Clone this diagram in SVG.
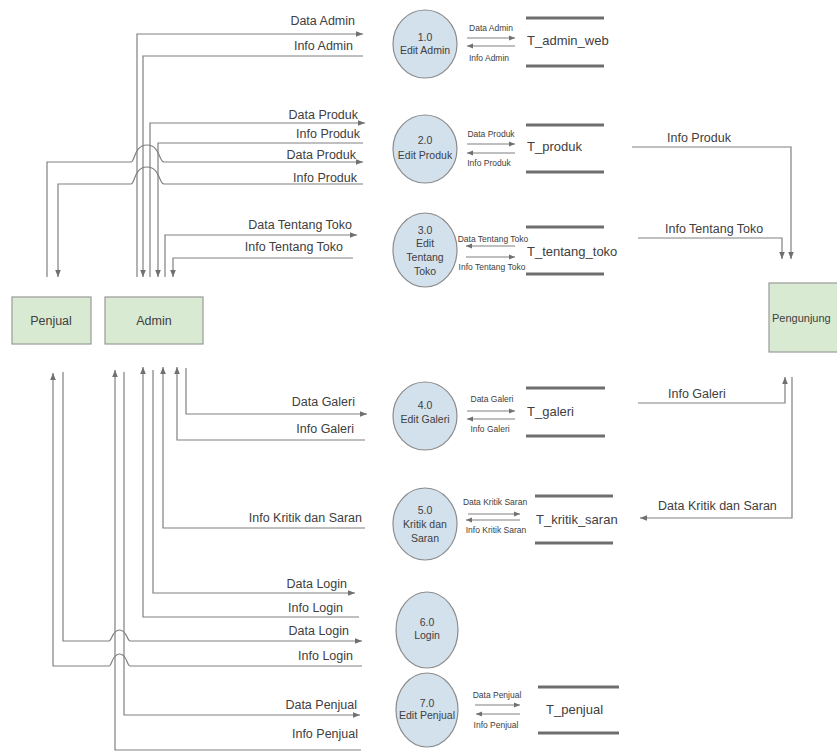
<svg xmlns="http://www.w3.org/2000/svg" width="837" height="751" viewBox="0 0 837 751">
<style>
.ln{fill:none;stroke:#808080;stroke-width:1.2}
.a{marker-end:url(#ah)}
.s{marker-end:url(#ahs)}
text{font-family:"Liberation Sans",Arial,sans-serif;fill:#404040}
.lbl{font-size:12.5px;text-anchor:end}
.rl{font-size:12.5px;text-anchor:start}
.sm{font-size:8.5px;text-anchor:middle}
.pe{fill:#d3e1ec;stroke:#8c8c8c;stroke-width:1.2}
.pt{font-size:10.5px;text-anchor:middle}
.st{stroke:#6e6e6e;stroke-width:3}
.stt{font-size:13px}
.ent{fill:#d9ead3;stroke:#999;stroke-width:1.2}
.et{font-size:12.5px;text-anchor:middle}
</style>
<defs>
<marker id="ah" viewBox="0 0 10 10" refX="10" refY="5" markerWidth="7" markerHeight="7" markerUnits="userSpaceOnUse" orient="auto"><path d="M0,1 L10,5 L0,9 z" fill="#707070"/></marker>
<marker id="ahs" viewBox="0 0 10 10" refX="10" refY="5" markerWidth="6" markerHeight="6" markerUnits="userSpaceOnUse" orient="auto"><path d="M0,1 L10,5 L0,9 z" fill="#707070"/></marker>
</defs>

<g id="connectors">
<path class="ln a" d="M137,277 V34 H363"/>
<path class="ln a" d="M363,56 H143 V277"/>
<path class="ln a" d="M150,277 V123 H365"/>
<path class="ln a" d="M363,143 H158 V277"/>
<path class="ln a" d="M47,277 V162 H131 C135,162 134,145 147,145 C160,145 159,162 164,162 H363"/>
<path class="ln a" d="M363,184 H164 C159,184 160,167 147,167 C134,167 135,184 131,184 H58 V277"/>
<path class="ln a" d="M165,277 V235 H357"/>
<path class="ln a" d="M353,258 H173 V277"/>

<path class="ln a" d="M632,147 H791 V259"/>
<path class="ln a" d="M638,238 H782 V259"/>
<path class="ln a" d="M638,403 H785 V377"/>
<path class="ln a" d="M792,377 V518 H640"/>

<path class="ln a" d="M186,368 V414 H367"/>
<path class="ln a" d="M365,440 H177 V367"/>
<path class="ln a" d="M365,528 H163 V367"/>
<path class="ln a" d="M153,370 V593 H355"/>
<path class="ln a" d="M359,617 H143 V367"/>
<path class="ln a" d="M63,372 V641 H109 C112,641 112,630 119.5,630 C127,630 127,641 130,641 H362"/>
<path class="ln a" d="M362,666 H130 C127,666 127,654 119.5,654 C112,654 112,666 109,666 H53 V373"/>
<path class="ln a" d="M124,372 V715 H360"/>
<path class="ln a" d="M361,750 H115 V370"/>

<path class="ln s" d="M467,38 H515"/>
<path class="ln s" d="M515,46 H467"/>
<path class="ln s" d="M467,144 H515"/>
<path class="ln s" d="M515,153 H467"/>
<path class="ln s" d="M515,246 H466"/>
<path class="ln s" d="M466,257 H515"/>
<path class="ln s" d="M467,411 H515"/>
<path class="ln s" d="M515,419 H467"/>
<path class="ln s" d="M468,514 H520"/>
<path class="ln s" d="M520,520 H466"/>
<path class="ln s" d="M475,705 H520"/>
<path class="ln s" d="M520,714 H476"/>

<text class="lbl" x="355" y="25">Data Admin</text>
<text class="lbl" x="353" y="50">Info Admin</text>
<text class="lbl" x="358" y="119">Data Produk</text>
<text class="lbl" x="360" y="138">Info Produk</text>
<text class="lbl" x="356" y="159">Data Produk</text>
<text class="lbl" x="357" y="182">Info Produk</text>
<text class="lbl" x="352" y="229">Data Tentang Toko</text>
<text class="lbl" x="343" y="251">Info Tentang Toko</text>
<text class="lbl" x="355" y="406">Data Galeri</text>
<text class="lbl" x="354" y="433">Info Galeri</text>
<text class="lbl" x="362" y="522">Info Kritik dan Saran</text>
<text class="lbl" x="347" y="588">Data Login</text>
<text class="lbl" x="343" y="612">Info Login</text>
<text class="lbl" x="349" y="635">Data Login</text>
<text class="lbl" x="353" y="660">Info Login</text>
<text class="lbl" x="357" y="709">Data Penjual</text>
<text class="lbl" x="358" y="738">Info Penjual</text>

<text class="rl" x="667" y="142">Info Produk</text>
<text class="rl" x="665" y="233">Info Tentang Toko</text>
<text class="rl" x="668" y="398">Info Galeri</text>
<text class="rl" x="658" y="510">Data Kritik dan Saran</text>

<text class="sm" x="491" y="31">Data Admin</text>
<text class="sm" x="489" y="61">Info Admin</text>
<text class="sm" x="491" y="137">Data Produk</text>
<text class="sm" x="489" y="166">Info Produk</text>
<text class="sm" x="493" y="242">Data Tentang Toko</text>
<text class="sm" x="492" y="270">Info Tentang Toko</text>
<text class="sm" x="492" y="402">Data Galeri</text>
<text class="sm" x="490" y="432">Info Galeri</text>
<text class="sm" x="495" y="505">Data Kritik Saran</text>
<text class="sm" x="496" y="533">Info Kritik Saran</text>
<text class="sm" x="497" y="698">Data Penjual</text>
<text class="sm" x="496" y="728">Info Penjual</text>
</g>

<g id="penjual"><rect class="ent" x="12" y="297" width="79" height="47"/><text class="et" x="51" y="325">Penjual</text></g>
<g id="admin"><rect class="ent" x="105" y="297" width="98" height="47"/><text class="et" x="154" y="325">Admin</text></g>
<g id="pengunjung"><rect class="ent" x="769" y="283" width="90" height="69"/><text x="772" y="322" style="font-size:11px">Pengunjung</text></g>

<g id="p1"><ellipse class="pe" cx="425" cy="44" rx="32" ry="34"/><text class="pt" x="425" y="41">1.0</text><text class="pt" x="425" y="54">Edit Admin</text></g>
<g id="p2"><ellipse class="pe" cx="425" cy="149" rx="32" ry="34"/><text class="pt" x="425" y="144">2.0</text><text class="pt" x="425" y="159">Edit Produk</text></g>
<g id="p3"><ellipse class="pe" cx="425" cy="250" rx="32" ry="37"/><text class="pt" x="425" y="234">3.0</text><text class="pt" x="425" y="247">Edit</text><text class="pt" x="425" y="261">Tentang</text><text class="pt" x="425" y="275">Toko</text></g>
<g id="p4"><ellipse class="pe" cx="425" cy="416" rx="32" ry="34"/><text class="pt" x="425" y="409">4.0</text><text class="pt" x="425" y="423">Edit Galeri</text></g>
<g id="p5"><ellipse class="pe" cx="425" cy="524" rx="32" ry="36"/><text class="pt" x="425" y="514">5.0</text><text class="pt" x="425" y="528">Kritik dan</text><text class="pt" x="425" y="542">Saran</text></g>
<g id="p6"><ellipse class="pe" cx="427" cy="630" rx="31" ry="38"/><text class="pt" x="427" y="626">6.0</text><text class="pt" x="427" y="639">Login</text></g>
<g id="p7"><ellipse class="pe" cx="427" cy="710" rx="31" ry="37"/><text class="pt" x="427" y="707">7.0</text><text class="pt" x="427" y="719">Edit Penjual</text></g>

<g id="s1"><line class="st" x1="526" y1="18" x2="604" y2="18"/><line class="st" x1="526" y1="66" x2="604" y2="66"/><text class="stt" x="527" y="45">T_admin_web</text></g>
<g id="s2"><line class="st" x1="526" y1="125" x2="604" y2="125"/><line class="st" x1="526" y1="172" x2="604" y2="172"/><text class="stt" x="527" y="151">T_produk</text></g>
<g id="s3"><line class="st" x1="526" y1="227" x2="604" y2="227"/><line class="st" x1="526" y1="274" x2="604" y2="274"/><text class="stt" x="527" y="256">T_tentang_toko</text></g>
<g id="s4"><line class="st" x1="526" y1="388" x2="605" y2="388"/><line class="st" x1="526" y1="436" x2="605" y2="436"/><text class="stt" x="527" y="416">T_galeri</text></g>
<g id="s5"><line class="st" x1="535" y1="496" x2="613" y2="496"/><line class="st" x1="535" y1="543" x2="613" y2="543"/><text class="stt" x="536" y="524">T_kritik_saran</text></g>
<g id="s7"><line class="st" x1="538" y1="687" x2="619" y2="687"/><line class="st" x1="538" y1="733" x2="619" y2="733"/><text class="stt" x="546" y="714">T_penjual</text></g>
</svg>
